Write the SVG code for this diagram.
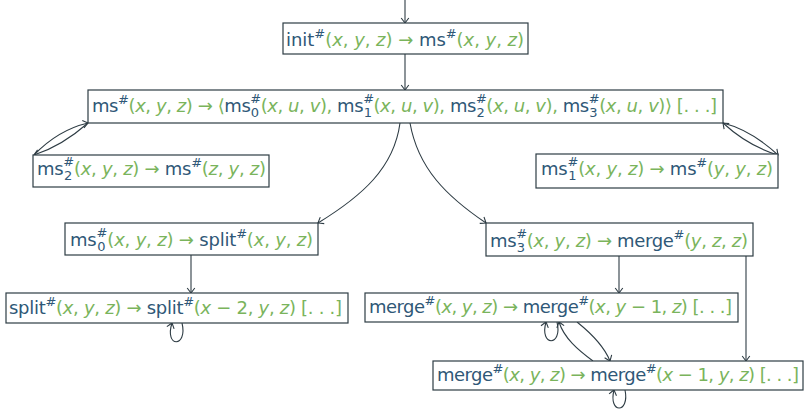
<svg xmlns="http://www.w3.org/2000/svg" width="804" height="410" viewBox="0 0 804 410">
  <style>
    .box { fill: #ffffff; stroke: #2e3c44; stroke-width: 1.2; }
    text { font-family: "DejaVu Sans", "Liberation Sans", sans-serif; font-size: 18px; }
    .b { fill: #2f5877; }
    .g { fill: #7ab45c; }
    .v { fill: #7ab45c; font-style: italic; }
    .sm { font-size: 13px; }
    .edge { fill: none; stroke: #2e3c44; stroke-width: 1.1; marker-end: url(#arr); }
  </style>
  <defs>
    <marker id="arr" markerUnits="userSpaceOnUse" markerWidth="12" markerHeight="12" refX="0" refY="0" viewBox="-6 -6 12 12" orient="auto" overflow="visible">
      <path d="M-5,-3.8 Q-1.5,-1.2 0,0 Q-1.5,1.2 -5,3.8" fill="none" stroke="#2e3c44" stroke-width="1.1"/>
    </marker>
  </defs>

  <g id="connectors">
    <path class="edge" d="M405,0 L405,23"/>
    <path class="edge" d="M405,54 L405,90"/>
    <!-- ms / ms2 pair -->
    <path class="edge" d="M88,123 Q62,146 34,155"/>
    <path class="edge" d="M34,155 Q58,130 88,123"/>
    <!-- ms / ms1 pair -->
    <path class="edge" d="M723,123 Q751,130 778,155"/>
    <path class="edge" d="M778,155 Q748,146 723,123"/>
    <!-- ms to ms0 and ms3 -->
    <path class="edge" d="M400,123 C394,168 362,196 318,223"/>
    <path class="edge" d="M410,123 C418,168 446,196 486,223"/>
    <path class="edge" d="M191,255 L191,293"/>
    <path class="edge" d="M619,256 L619,293"/>
    <path class="edge" d="M746,256 L746,361"/>
    <!-- self loops -->
    <path class="edge" d="M182,323 C188,348 164,348 172,323"/>
    <path class="edge" d="M557,322 C563,347 539,347 546,322"/>
    <path class="edge" d="M625,390 C630,414 608,414 614,390"/>
    <!-- merge pair -->
    <path class="edge" d="M577,322 C592,334 604,346 610,361"/>
    <path class="edge" d="M593,361 C578,350 564,338 559,322"/>
  </g>

  <g id="init">
    <rect class="box" x="283" y="23" width="245" height="31"/>
    <text x="286" y="46" textLength="238" lengthAdjust="spacing"><tspan class="b">init</tspan><tspan class="b sm" dy="-8">#</tspan><tspan class="g" dy="8">(</tspan><tspan class="v">x</tspan><tspan class="g">, </tspan><tspan class="v">y</tspan><tspan class="g">, </tspan><tspan class="v">z</tspan><tspan class="g">) → </tspan><tspan class="b">ms</tspan><tspan class="b sm" dy="-8">#</tspan><tspan class="g" dy="8">(</tspan><tspan class="v">x</tspan><tspan class="g">, </tspan><tspan class="v">y</tspan><tspan class="g">, </tspan><tspan class="v">z</tspan><tspan class="g">)</tspan></text>
  </g>

  <g id="ms">
    <rect class="box" x="88" y="90" width="635" height="33"/>
    <text x="92" y="112" textLength="625" lengthAdjust="spacing"><tspan class="b">ms</tspan><tspan class="b sm" dy="-8">#</tspan><tspan class="g" dy="8">(</tspan><tspan class="v">x</tspan><tspan class="g">, </tspan><tspan class="v">y</tspan><tspan class="g">, </tspan><tspan class="v">z</tspan><tspan class="g">) → ⟨</tspan><tspan class="b">ms</tspan><tspan class="b sm" dy="-9">#</tspan><tspan class="b sm" dx="-10" dy="14">0</tspan><tspan class="g" dx="2" dy="-5">(</tspan><tspan class="v">x</tspan><tspan class="g">, </tspan><tspan class="v">u</tspan><tspan class="g">, </tspan><tspan class="v">v</tspan><tspan class="g">), </tspan><tspan class="b">ms</tspan><tspan class="b sm" dy="-9">#</tspan><tspan class="b sm" dx="-10" dy="14">1</tspan><tspan class="g" dx="2" dy="-5">(</tspan><tspan class="v">x</tspan><tspan class="g">, </tspan><tspan class="v">u</tspan><tspan class="g">, </tspan><tspan class="v">v</tspan><tspan class="g">), </tspan><tspan class="b">ms</tspan><tspan class="b sm" dy="-9">#</tspan><tspan class="b sm" dx="-10" dy="14">2</tspan><tspan class="g" dx="2" dy="-5">(</tspan><tspan class="v">x</tspan><tspan class="g">, </tspan><tspan class="v">u</tspan><tspan class="g">, </tspan><tspan class="v">v</tspan><tspan class="g">), </tspan><tspan class="b">ms</tspan><tspan class="b sm" dy="-9">#</tspan><tspan class="b sm" dx="-10" dy="14">3</tspan><tspan class="g" dx="2" dy="-5">(</tspan><tspan class="v">x</tspan><tspan class="g">, </tspan><tspan class="v">u</tspan><tspan class="g">, </tspan><tspan class="v">v</tspan><tspan class="g">)⟩ [. . .]</tspan></text>
  </g>

  <g id="ms2">
    <rect class="box" x="33" y="155" width="236" height="32"/>
    <text x="37" y="175" textLength="229" lengthAdjust="spacing"><tspan class="b">ms</tspan><tspan class="b sm" dy="-9">#</tspan><tspan class="b sm" dx="-10" dy="14">2</tspan><tspan class="g" dx="2" dy="-5">(</tspan><tspan class="v">x</tspan><tspan class="g">, </tspan><tspan class="v">y</tspan><tspan class="g">, </tspan><tspan class="v">z</tspan><tspan class="g">) → </tspan><tspan class="b">ms</tspan><tspan class="b sm" dy="-8">#</tspan><tspan class="g" dy="8">(</tspan><tspan class="v">z</tspan><tspan class="g">, </tspan><tspan class="v">y</tspan><tspan class="g">, </tspan><tspan class="v">z</tspan><tspan class="g">)</tspan></text>
  </g>

  <g id="ms1">
    <rect class="box" x="536" y="154" width="242" height="34"/>
    <text x="541" y="175" textLength="232" lengthAdjust="spacing"><tspan class="b">ms</tspan><tspan class="b sm" dy="-9">#</tspan><tspan class="b sm" dx="-10" dy="14">1</tspan><tspan class="g" dx="2" dy="-5">(</tspan><tspan class="v">x</tspan><tspan class="g">, </tspan><tspan class="v">y</tspan><tspan class="g">, </tspan><tspan class="v">z</tspan><tspan class="g">) → </tspan><tspan class="b">ms</tspan><tspan class="b sm" dy="-8">#</tspan><tspan class="g" dy="8">(</tspan><tspan class="v">y</tspan><tspan class="g">, </tspan><tspan class="v">y</tspan><tspan class="g">, </tspan><tspan class="v">z</tspan><tspan class="g">)</tspan></text>
  </g>

  <g id="ms0">
    <rect class="box" x="65" y="223" width="253" height="32"/>
    <text x="70" y="246" textLength="243" lengthAdjust="spacing"><tspan class="b">ms</tspan><tspan class="b sm" dy="-9">#</tspan><tspan class="b sm" dx="-10" dy="14">0</tspan><tspan class="g" dx="2" dy="-5">(</tspan><tspan class="v">x</tspan><tspan class="g">, </tspan><tspan class="v">y</tspan><tspan class="g">, </tspan><tspan class="v">z</tspan><tspan class="g">) → </tspan><tspan class="b">split</tspan><tspan class="b sm" dy="-8">#</tspan><tspan class="g" dy="8">(</tspan><tspan class="v">x</tspan><tspan class="g">, </tspan><tspan class="v">y</tspan><tspan class="g">, </tspan><tspan class="v">z</tspan><tspan class="g">)</tspan></text>
  </g>

  <g id="split">
    <rect class="box" x="6" y="293" width="342" height="30"/>
    <text x="9" y="314" textLength="333" lengthAdjust="spacing"><tspan class="b">split</tspan><tspan class="b sm" dy="-8">#</tspan><tspan class="g" dy="8">(</tspan><tspan class="v">x</tspan><tspan class="g">, </tspan><tspan class="v">y</tspan><tspan class="g">, </tspan><tspan class="v">z</tspan><tspan class="g">) → </tspan><tspan class="b">split</tspan><tspan class="b sm" dy="-8">#</tspan><tspan class="g" dy="8">(</tspan><tspan class="v">x</tspan><tspan class="g"> − 2, </tspan><tspan class="v">y</tspan><tspan class="g">, </tspan><tspan class="v">z</tspan><tspan class="g">) [. . .]</tspan></text>
  </g>

  <g id="ms3">
    <rect class="box" x="486" y="223" width="267" height="33"/>
    <text x="490" y="247" textLength="258" lengthAdjust="spacing"><tspan class="b">ms</tspan><tspan class="b sm" dy="-9">#</tspan><tspan class="b sm" dx="-10" dy="14">3</tspan><tspan class="g" dx="2" dy="-5">(</tspan><tspan class="v">x</tspan><tspan class="g">, </tspan><tspan class="v">y</tspan><tspan class="g">, </tspan><tspan class="v">z</tspan><tspan class="g">) → </tspan><tspan class="b">merge</tspan><tspan class="b sm" dy="-8">#</tspan><tspan class="g" dy="8">(</tspan><tspan class="v">y</tspan><tspan class="g">, </tspan><tspan class="v">z</tspan><tspan class="g">, </tspan><tspan class="v">z</tspan><tspan class="g">)</tspan></text>
  </g>

  <g id="merge1">
    <rect class="box" x="365" y="293" width="373" height="29"/>
    <text x="369" y="313" textLength="363" lengthAdjust="spacing"><tspan class="b">merge</tspan><tspan class="b sm" dy="-8">#</tspan><tspan class="g" dy="8">(</tspan><tspan class="v">x</tspan><tspan class="g">, </tspan><tspan class="v">y</tspan><tspan class="g">, </tspan><tspan class="v">z</tspan><tspan class="g">) → </tspan><tspan class="b">merge</tspan><tspan class="b sm" dy="-8">#</tspan><tspan class="g" dy="8">(</tspan><tspan class="v">x</tspan><tspan class="g">, </tspan><tspan class="v">y</tspan><tspan class="g"> − 1, </tspan><tspan class="v">z</tspan><tspan class="g">) [. . .]</tspan></text>
  </g>

  <g id="merge2">
    <rect class="box" x="433" y="361" width="370" height="29"/>
    <text x="437" y="381" textLength="362" lengthAdjust="spacing"><tspan class="b">merge</tspan><tspan class="b sm" dy="-8">#</tspan><tspan class="g" dy="8">(</tspan><tspan class="v">x</tspan><tspan class="g">, </tspan><tspan class="v">y</tspan><tspan class="g">, </tspan><tspan class="v">z</tspan><tspan class="g">) → </tspan><tspan class="b">merge</tspan><tspan class="b sm" dy="-8">#</tspan><tspan class="g" dy="8">(</tspan><tspan class="v">x</tspan><tspan class="g"> − 1, </tspan><tspan class="v">y</tspan><tspan class="g">, </tspan><tspan class="v">z</tspan><tspan class="g">) [. . .]</tspan></text>
  </g>
</svg>
